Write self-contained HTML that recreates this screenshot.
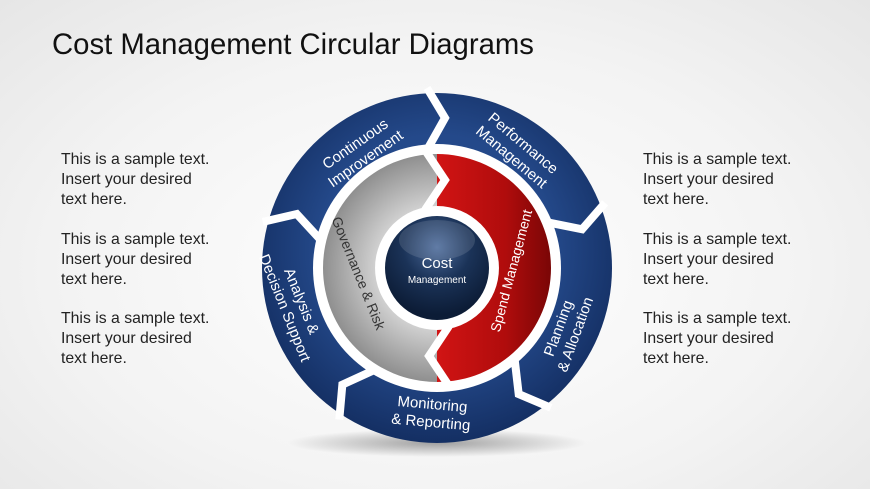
<!DOCTYPE html>
<html><head><style>
html,body{margin:0;padding:0}
body{width:870px;height:489px;overflow:hidden;background:radial-gradient(ellipse at 50% 55%,#ffffff 0%,#f3f3f3 60%,#e6e6e6 100%);font-family:"Liberation Sans",sans-serif;position:relative}
.t{position:absolute;font-size:15.8px;line-height:19.8px;color:#222}
h1{position:absolute;left:52px;top:28px;margin:0;font-weight:normal;font-size:29.3px;color:#111}
</style></head><body>
<h1>Cost Management Circular Diagrams</h1>
<div class="t" style="left:61px;top:150px">This is a sample text.<br>Insert your desired<br>text here.</div>
<div class="t" style="left:61px;top:230px">This is a sample text.<br>Insert your desired<br>text here.</div>
<div class="t" style="left:61px;top:309px">This is a sample text.<br>Insert your desired<br>text here.</div>
<div class="t" style="left:643px;top:150px">This is a sample text.<br>Insert your desired<br>text here.</div>
<div class="t" style="left:643px;top:230px">This is a sample text.<br>Insert your desired<br>text here.</div>
<div class="t" style="left:643px;top:309px">This is a sample text.<br>Insert your desired<br>text here.</div>
<svg width="870" height="489" style="position:absolute;left:0;top:0">
<defs>
<radialGradient id="sh" cx="50%" cy="50%" r="50%"><stop offset="0" stop-color="#000" stop-opacity="0.35"/><stop offset="1" stop-color="#000" stop-opacity="0"/></radialGradient>
<radialGradient id="bl" cx="50%" cy="45%" r="55%"><stop offset="0.6" stop-color="#24498a"/><stop offset="1" stop-color="#142f63"/></radialGradient>
<radialGradient id="gr" cx="437" cy="268" r="114" gradientUnits="userSpaceOnUse"><stop offset="0.5" stop-color="#d6d6d6"/><stop offset="1" stop-color="#8f8f8f"/></radialGradient>
<linearGradient id="rd" x1="0" y1="0" x2="1" y2="0"><stop offset="0" stop-color="#d11414"/><stop offset="0.6" stop-color="#b00c0c"/><stop offset="1" stop-color="#7a0606"/></linearGradient>
<radialGradient id="cc" cx="50%" cy="30%" r="65%"><stop offset="0" stop-color="#4b6a9a"/><stop offset="0.5" stop-color="#1b3358"/><stop offset="1" stop-color="#0c1c36"/></radialGradient>
</defs>
<ellipse cx="437" cy="443" rx="150" ry="14" fill="url(#sh)"/>
<circle cx="437" cy="268" r="175" fill="url(#bl)"/>
<circle cx="437" cy="268" r="124" fill="#fff"/>
<path d="M437 154 A114 114 0 0 0 437 382 L437 330 A62 62 0 0 1 437 206 Z" fill="url(#gr)"/>
<path d="M437 154 A114 114 0 0 1 437 382 L437 330 A62 62 0 0 0 437 206 Z" fill="url(#rd)"/>
<g stroke="#fff" stroke-width="8" fill="none" stroke-linejoin="miter">
<g id="ch"><polyline points="427,88 445,118 427,150"/></g>
<use href="#ch" transform="rotate(72 437 268)"/>
<use href="#ch" transform="rotate(144 437 268)"/>
<use href="#ch" transform="rotate(216 437 268)"/>
<use href="#ch" transform="rotate(288 437 268)"/>
<polyline points="425,150 445,180 425,210"/>
<polyline points="449,386 429,356 449,326"/>
</g>
<circle cx="437" cy="268" r="60" fill="#fff"/>
<circle cx="437" cy="268" r="52" fill="url(#cc)"/>
<ellipse cx="437" cy="240" rx="38" ry="20" fill="#fff" opacity="0.12"/>
<text x="437" y="268" fill="#fff" font-size="15" text-anchor="middle">Cost</text>
<text x="437" y="283" fill="#fff" font-size="10" text-anchor="middle">Management</text>
<g fill="#fff" font-size="15" text-anchor="middle">
<text transform="translate(358,148) rotate(-35)"><tspan x="0" y="0">Continuous</tspan><tspan x="0" y="18">Improvement</tspan></text>
<text transform="translate(520,147) rotate(40)"><tspan x="0" y="0">Performance</tspan><tspan x="0" y="18">Management</tspan></text>
<text transform="translate(563,330) rotate(-70)"><tspan x="0" y="0">Planning</tspan><tspan x="0" y="18">&amp; Allocation</tspan></text>
<text transform="translate(432,409) rotate(5)"><tspan x="0" y="0">Monitoring</tspan><tspan x="0" y="18">&amp; Reporting</tspan></text>
<text transform="translate(297,303) rotate(68)"><tspan x="0" y="0">Analysis &amp;</tspan><tspan x="0" y="18">Decision Support</tspan></text>
<text transform="translate(516,272) rotate(-75)" font-size="14">Spend Management</text>
</g>
<text transform="translate(354,275) rotate(68)" fill="#333" font-size="14" text-anchor="middle">Governance &amp; Risk</text>
</svg>
</body></html>
